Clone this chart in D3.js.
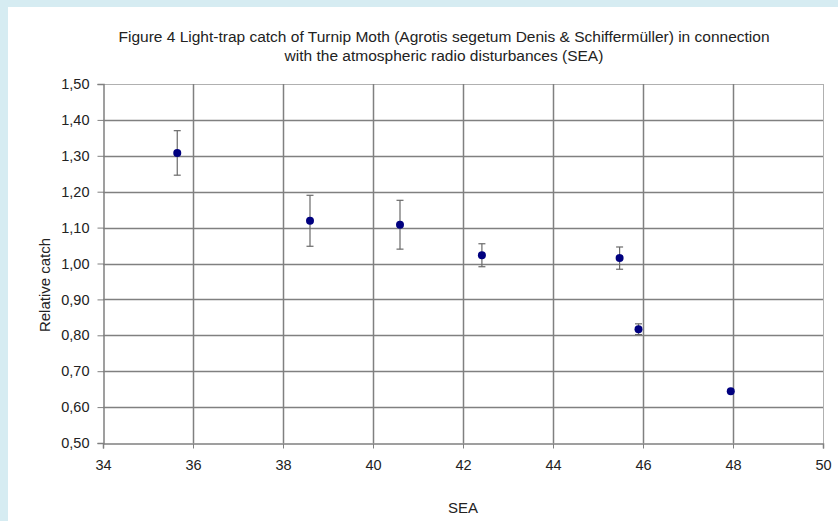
<!DOCTYPE html>
<html lang="en">
  <head>
    <meta charset="UTF-8">
    <script src="https://cdn.jsdelivr.net/npm/d3@7"></script>
    <style>
      body { margin: 0; background: #d6ecf2; }
      svg { display: block; }
    </style>
    <title>Light-trap catch vs SEA</title>
  </head>
  <body>
    <script>
      // Light-trap catch of Turnip Moth against SEA, with error bars

      const sea = [35.65, 38.6, 40.6, 42.42, 45.48, 45.9, 47.95];
      const catchVal = [1.308, 1.119, 1.108, 1.023, 1.015, 0.817, 0.644];
      const errVal = [0.062, 0.071, 0.068, 0.032, 0.031, 0.015, 0];

      const xTicks = [34, 36, 38, 40, 42, 44, 46, 48, 50];
      const yTicks = [0.5, 0.6, 0.7, 0.8, 0.9, 1.0, 1.1, 1.2, 1.3, 1.4, 1.5];

      const titleLines = [
        'Figure 4 Light-trap catch of Turnip Moth (Agrotis segetum Denis & Schiffermüller) in connection',
        'with the atmospheric radio disturbances (SEA)'
      ];

      let W = 838, H = 521;
      let mLeft = 103, mRight = 823, mTop = 84, mBottom = 443;

      let svg = d3.select('body').append('svg')
        .attr('width', W)
        .attr('height', H)
        .style('font-family', 'Liberation Sans, Arial, sans-serif');

      // white panel inside the blue frame
      svg.append('rect')
        .attr('x', 8).attr('y', 7)
        .attr('width', W - 8).attr('height', H - 7)
        .attr('fill', '#fff');

      let x = d3.scaleLinear().domain([34, 50]).range([mLeft, mRight]);
      let y = d3.scaleLinear().domain([0.5, 1.5]).range([mBottom, mTop]);

      // grid
      svg.append('g').selectAll('line')
        .data(yTicks.slice(1))
        .enter().append('line')
        .attr('x1', mLeft).attr('x2', mRight)
        .attr('y1', d => Math.round(y(d)) + 0.5)
        .attr('y2', d => Math.round(y(d)) + 0.5)
        .attr('stroke', d => d === 1.5 ? '#b0b0b0' : '#808080')
        .attr('stroke-width', d => d === 1.5 ? 1 : 1.5);

      svg.append('g').selectAll('line')
        .data(xTicks.slice(1))
        .enter().append('line')
        .attr('y1', mTop).attr('y2', mBottom)
        .attr('x1', d => Math.round(x(d)) + 0.5)
        .attr('x2', d => Math.round(x(d)) + 0.5)
        .attr('stroke', d => d === 50 ? '#b0b0b0' : '#808080')
        .attr('stroke-width', d => d === 50 ? 1 : 1.5);

      // axes
      let xAxis = svg.append('g')
        .attr('transform', `translate(0,${mBottom + 0.5})`)
        .call(d3.axisBottom(x).tickValues(xTicks).tickSize(5).tickPadding(11));
      let yAxis = svg.append('g')
        .attr('transform', `translate(${mLeft + 0.5},0)`)
        .call(d3.axisLeft(y).tickValues(yTicks).tickSize(6).tickPadding(8)
          .tickFormat(d => d3.format('.2f')(d).replace('.', ',')));

      [xAxis, yAxis].forEach(a => {
        a.select('.domain').attr('stroke', '#808080').attr('stroke-width', 1.5);
        a.selectAll('.tick line').attr('stroke', '#808080');
        a.selectAll('text')
          .attr('font-family', 'Liberation Sans, Arial, sans-serif')
          .attr('font-size', 14.5)
          .attr('fill', '#222');
      });

      // error bars
      let pts = sea.map((s, i) => ({ s: s, c: catchVal[i], e: errVal[i] }));
      let eb = svg.append('g').selectAll('g')
        .data(pts.filter(d => d.e > 0))
        .enter().append('g')
        .attr('stroke', '#6a6a6a')
        .attr('stroke-width', 1.2);
      eb.append('line')
        .attr('x1', d => x(d.s)).attr('x2', d => x(d.s))
        .attr('y1', d => y(d.c + d.e)).attr('y2', d => y(d.c - d.e));
      eb.append('line')
        .attr('x1', d => x(d.s) - 3.5).attr('x2', d => x(d.s) + 3.5)
        .attr('y1', d => y(d.c + d.e)).attr('y2', d => y(d.c + d.e));
      eb.append('line')
        .attr('x1', d => x(d.s) - 3.5).attr('x2', d => x(d.s) + 3.5)
        .attr('y1', d => y(d.c - d.e)).attr('y2', d => y(d.c - d.e));

      // points
      svg.append('g').selectAll('circle')
        .data(pts)
        .enter().append('circle')
        .attr('cx', d => x(d.s))
        .attr('cy', d => y(d.c))
        .attr('r', 4)
        .attr('fill', '#00007f');

      // title
      svg.append('g').selectAll('text')
        .data(titleLines)
        .enter().append('text')
        .attr('x', 444)
        .attr('y', (d, i) => 42 + i * 19)
        .attr('text-anchor', 'middle')
        .attr('font-size', 15.5)
        .attr('fill', '#222')
        .text(d => d);

      // axis titles
      svg.append('text')
        .attr('x', 463).attr('y', 513)
        .attr('text-anchor', 'middle')
        .attr('font-size', 15)
        .attr('fill', '#222')
        .text('SEA');

      svg.append('text')
        .attr('transform', 'translate(50,285) rotate(-90)')
        .attr('text-anchor', 'middle')
        .attr('font-size', 15)
        .attr('fill', '#222')
        .text('Relative catch');
    </script>
  </body>
</html>
